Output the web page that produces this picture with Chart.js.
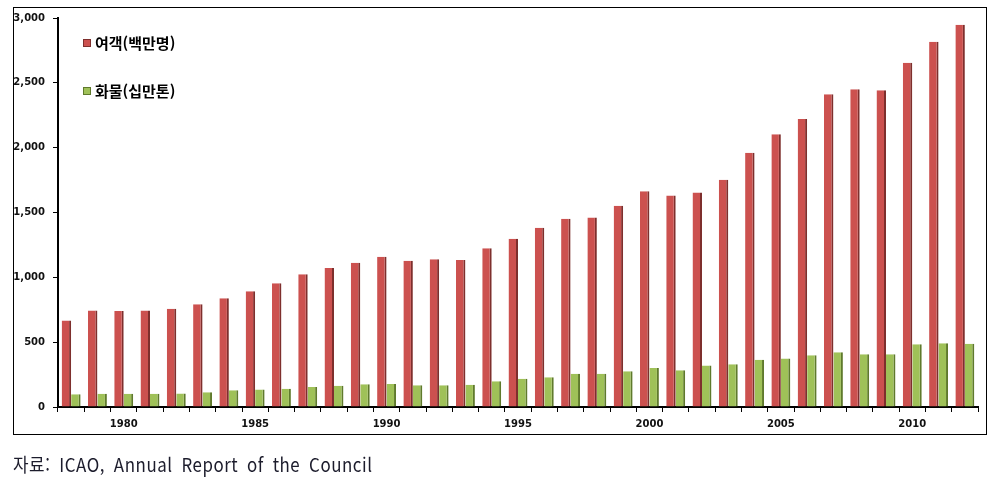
<!DOCTYPE html>
<html lang="ko">
<head>
  <meta charset="UTF-8">
  <title>여객 및 화물 추이</title>
  <style>
    body { margin: 0; background: #fff; }
    #wrap { position: relative; width: 999px; height: 486px; }
    #frame { position: absolute; left: 13px; top: 7px; width: 972px; height: 426px; border: 1.5px solid #000; }
    #chart { position: absolute; left: 0; top: 0; }
    .leg { position: absolute; left: 83px; font: bold 15px "Noto Sans CJK KR", sans-serif; color: #000; line-height: 18px; }
    .leg span { display: inline-block; width: 6px; height: 6px; margin-right: 4px; vertical-align: 2px; }
    #note { position: absolute; left: 13px; top: 450px; font: 19px "Noto Sans CJK KR", sans-serif; color: #1c1c2c;
            letter-spacing: 0.6px; word-spacing: 4px; transform: scaleX(0.89); transform-origin: left top; white-space: nowrap; }
  </style>
</head>
<body>
<div id="wrap">
  <div id="frame"></div>
  <canvas id="chart" width="999" height="486"></canvas>
  <div id="legend"></div>
  <div id="note">자료: ICAO, Annual Report of the Council</div>
</div>

<script src="https://cdn.jsdelivr.net/npm/chart.js@4.4.0/dist/chart.umd.min.js"></script>
<script>
  // 연도별 값
  var years = [];
  for (var y = 1978; y <= 2012; y++) years.push(String(y));

  var passengers = [668, 745, 740, 745, 758, 792, 838, 892, 954, 1023,
                    1072, 1113, 1159, 1128, 1139, 1133, 1224, 1298, 1382, 1452,
                    1462, 1552, 1663, 1632, 1655, 1753, 1961, 2103, 2221, 2411,
                    2450, 2442, 2655, 2817, 2948];
  var cargo = [98, 103, 103, 103, 105, 113, 129, 134, 141, 154,
               164, 175, 177, 167, 167, 172, 198, 218, 229, 257,
               257, 275, 301, 283, 321, 329, 365, 375, 399, 422,
               406, 406, 483, 491, 487];
  var yTicks = [0, 500, 1000, 1500, 2000, 2500, 3000];

  var seriesNames = ['여객(백만명)', '화물(십만톤)'];
  var fillColors = ['#cc514f', '#9fc158'];
  var edgeColors = ['#7e2f2d', '#5f7a2c'];

  var tickFont = { family: 'DejaVu Sans', size: 10, weight: 'bold' };

  var chart = new Chart(document.getElementById('chart').getContext('2d'), {
    type: 'bar',
    data: {
      labels: years,
      datasets: [
        { label: seriesNames[0], data: passengers, backgroundColor: fillColors[0],
          borderColor: edgeColors[0], borderWidth: { left: 0, right: 2, top: 0, bottom: 0 }, borderSkipped: false },
        { label: seriesNames[1], data: cargo, backgroundColor: fillColors[1],
          borderColor: edgeColors[1], borderWidth: { left: 0, right: 2, top: 0, bottom: 0 }, borderSkipped: false }
      ]
    },
    options: {
      responsive: false,
      animation: false,
      layout: { padding: { left: 0, top: 18, right: 21, bottom: 0 } },
      datasets: { bar: { categoryPercentage: 0.72, barPercentage: 1.0 } },
      plugins: { legend: { display: false }, tooltip: { enabled: false } },
      scales: {
        x: {
          grid: { drawOnChartArea: false, drawTicks: true, tickLength: 5, color: '#000', offset: true },
          border: { color: '#000', width: 2 },
          ticks: {
            autoSkip: false, maxRotation: 0, padding: 6, color: '#111', font: tickFont,
            callback: function (v, i) { var lab = years[i]; return Number(lab) % 5 === 0 ? lab : ''; }
          },
          afterFit: function (s) { s.height = 79; }
        },
        y: {
          min: 0, max: 3000,
          grid: { drawOnChartArea: false, drawTicks: true, tickLength: 5, color: '#000' },
          border: { color: '#000', width: 2 },
          afterBuildTicks: function (s) { s.ticks = yTicks.map(function (v) { return { value: v }; }); },
          ticks: {
            padding: 8, color: '#111', font: tickFont,
            callback: function (v) { return v.toLocaleString('en-US'); }
          },
          afterFit: function (s) { s.width = 58; }
        }
      }
    }
  });

  // 범례 (차트 안쪽 왼쪽 위)
  var legendTops = [34, 82];
  var html = '';
  for (var i = 0; i < seriesNames.length; i++) {
    html += '<div class="leg" style="top:' + legendTops[i] + 'px"><span style="background:' + fillColors[i] +
            ';border:1px solid ' + edgeColors[i] + '"></span>' + seriesNames[i] + '</div>';
  }
  document.getElementById('legend').innerHTML = html;
</script>
</body>
</html>
